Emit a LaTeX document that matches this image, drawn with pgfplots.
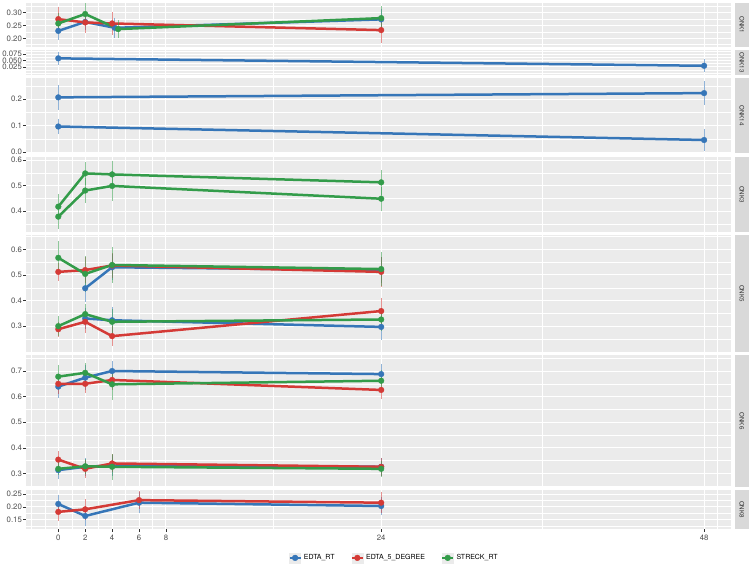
\documentclass[border=0pt]{standalone}
\usepackage{fontspec}
\setmainfont{TeX Gyre Heros}
\usepackage{pgfplots}
\pgfplotsset{compat=1.18}
\usetikzlibrary{calc}

\definecolor{cblue}{HTML}{3676B8}
\definecolor{cred}{HTML}{D43A36}
\definecolor{cgreen}{HTML}{339C4A}
\definecolor{panelbg}{HTML}{EBEBEB}
\definecolor{stripgray}{HTML}{D9D9D9}
\definecolor{tickgray}{HTML}{333333}
\definecolor{labgray}{HTML}{4D4D4D}

\pgfplotsset{
  panel/.style={
    scale only axis, width=705pt,
    xmin=-2.4, xmax=50,
    scaled ticks=false,
    axis background/.style={fill=panelbg},
    axis line style={draw=none},
    grid=both,
    major grid style={white, line width=0.9pt},
    minor grid style={white, line width=0.45pt},
    xtick={0,2,4,6,8,24,48},
    minor xtick={-2,-1,1,3,5,7,16,36,49,50},
    tick align=outside, tick pos=left,
    major tick length=2.7pt, minor tick length=0pt,
    tick style={tickgray, line width=0.5pt},
    tick label style={font=\fontsize{7.8}{9}\selectfont, text=labgray},
    yticklabel style={inner sep=0pt, xshift=-1.2pt},
    xticklabel style={inner sep=0pt, yshift=-3pt},
  },
  upper/.style={panel, xmajorticks=false, xticklabels={}},
  ser/.style={line width=2.5pt, line join=round, mark=*, mark size=2.9pt,
    mark options={line width=0.3pt},
    error bars/.cd, y dir=both, y explicit, error mark=none,
    error bar style={line width=0.75pt, opacity=0.55}},
  sb/.style={cblue, ser},
  sr/.style={cred, ser},
  sg/.style={cgreen, ser},
}

\newcommand{\strip}[2]{%
  \fill[stripgray] ([xshift=4pt]#1.north east) rectangle ([xshift=18pt]#1.south east);
  \node[rotate=-90, font=\fontsize{6.2}{7}\selectfont, text=black!80] at ($([xshift=11pt]#1.north east)!0.5!([xshift=11pt]#1.south east)$) {#2};}

\begin{document}
\begin{tikzpicture}
\useasboundingbox (0,0) rectangle (749pt,-568pt);

% ONK1
\begin{axis}[upper, name=p1, at={(26pt,-3pt)}, anchor=north west, height=44pt,
  ymin=0.166, ymax=0.338, ytick={0.20,0.25,0.30}, yticklabels={0.20,0.25,0.30},
  minor ytick={0.175,0.225,0.275,0.325}]
  \addplot[sb] coordinates {(0,0.229) +- (0,0.035) (2,0.264) +- (0,0.03) (4.2,0.241) +- (0,0.04) (24,0.274) +- (0,0.04)};
  \addplot[sr] coordinates {(0,0.275) +- (0,0.048) (2,0.262) +- (0,0.04) (4,0.258) +- (0,0.045) (24,0.232) +- (0,0.05)};
  \addplot[sg] coordinates {(0,0.258) +- (0,0.04) (2,0.295) +- (0,0.042) (4.45,0.236) +- (0,0.035) (24,0.279) +- (0,0.047)};
\end{axis}
\strip{p1}{ONK1}

% ONK13
\begin{axis}[upper, name=p2, at={(26pt,-50pt)}, anchor=north west, height=25pt,
  ymin=-0.007, ymax=0.0906, ytick={0.025,0.050,0.075}, yticklabels={0.025,0.050,0.075},
  minor ytick={0,0.0125,0.0375,0.0625,0.0875}]
  \addplot[sb] coordinates {(0,0.058) +- (0,0.026) (48,0.029) +- (0,0.025)};
\end{axis}
\strip{p2}{ONK13}

% ONK14
\begin{axis}[upper, name=p3, at={(26pt,-78pt)}, anchor=north west, height=75pt,
  ymin=-0.003, ymax=0.280, ytick={0,0.1,0.2}, yticklabels={0.0,0.1,0.2},
  minor ytick={0.05,0.15,0.25}]
  \addplot[sb] coordinates {(0,0.207) +- (0,0.048) (48,0.223) +- (0,0.044)};
  \addplot[sb] coordinates {(0,0.097) +- (0,0.03) (48,0.046) +- (0,0.04)};
\end{axis}
\strip{p3}{ONK14}

% ONK3
\begin{axis}[upper, name=p4, at={(26pt,-157pt)}, anchor=north west, height=75pt,
  ymin=0.319, ymax=0.612, ytick={0.4,0.5,0.6}, yticklabels={0.4,0.5,0.6},
  minor ytick={0.35,0.45,0.55}]
  \addplot[sg] coordinates {(0,0.418) +- (0,0.05) (2,0.548) +- (0,0.045) (4,0.544) +- (0,0.053) (24,0.513) +- (0,0.048)};
  \addplot[sg] coordinates {(0,0.379) +- (0,0.05) (2,0.481) +- (0,0.048) (4,0.499) +- (0,0.06) (24,0.449) +- (0,0.047)};
\end{axis}
\strip{p4}{ONK3}

% ONK5
\begin{axis}[upper, name=p5, at={(26pt,-235pt)}, anchor=north west, height=117pt,
  ymin=0.199, ymax=0.656, ytick={0.3,0.4,0.5,0.6}, yticklabels={0.3,0.4,0.5,0.6},
  minor ytick={0.2,0.25,0.35,0.45,0.55,0.65}]
  \addplot[sb] coordinates {(2,0.448) +- (0,0.055) (4,0.530) +- (0,0.05) (24,0.519) +- (0,0.05)};
  \addplot[sb] coordinates {(2,0.330) +- (0,0.04) (4,0.323) +- (0,0.05) (24,0.297) +- (0,0.05)};
  \addplot[sr] coordinates {(0,0.512) +- (0,0.035) (2,0.519) +- (0,0.05) (4,0.537) +- (0,0.05) (24,0.512) +- (0,0.06)};
  \addplot[sr] coordinates {(0,0.288) +- (0,0.03) (2,0.317) +- (0,0.045) (4,0.261) +- (0,0.04) (24,0.359) +- (0,0.05)};
  \addplot[sg] coordinates {(0,0.567) +- (0,0.065) (2,0.504) +- (0,0.07) (4,0.539) +- (0,0.07) (24,0.523) +- (0,0.065)};
  \addplot[sg] coordinates {(0,0.300) +- (0,0.04) (2,0.347) +- (0,0.04) (4,0.317) +- (0,0.05) (24,0.326) +- (0,0.045)};
\end{axis}
\strip{p5}{ONK5}

% ONK6
\begin{axis}[upper, name=p6, at={(26pt,-355pt)}, anchor=north west, height=132pt,
  ymin=0.247, ymax=0.7625, ytick={0.3,0.4,0.5,0.6,0.7}, yticklabels={0.3,0.4,0.5,0.6,0.7},
  minor ytick={0.25,0.35,0.45,0.55,0.65,0.75}]
  \addplot[sb] coordinates {(0,0.639) +- (0,0.045) (2,0.674) +- (0,0.05) (4,0.700) +- (0,0.04) (24,0.688) +- (0,0.04)};
  \addplot[sb] coordinates {(0,0.313) +- (0,0.035) (2,0.326) +- (0,0.035) (4,0.331) +- (0,0.04) (24,0.326) +- (0,0.035)};
  \addplot[sr] coordinates {(0,0.650) +- (0,0.04) (2,0.650) +- (0,0.035) (4,0.665) +- (0,0.04) (24,0.626) +- (0,0.035)};
  \addplot[sr] coordinates {(0,0.354) +- (0,0.035) (2,0.318) +- (0,0.035) (4,0.339) +- (0,0.035) (24,0.326) +- (0,0.035)};
  \addplot[sg] coordinates {(0,0.678) +- (0,0.045) (2,0.693) +- (0,0.04) (4,0.648) +- (0,0.06) (24,0.662) +- (0,0.04)};
  \addplot[sg] coordinates {(0,0.318) +- (0,0.025) (2,0.328) +- (0,0.03) (4,0.326) +- (0,0.05) (24,0.318) +- (0,0.03)};
\end{axis}
\strip{p6}{ONK6}

% ONK8
\begin{axis}[panel, name=p7, at={(26pt,-490pt)}, anchor=north west, height=39pt,
  ymin=0.113, ymax=0.2656, ytick={0.15,0.20,0.25}, yticklabels={0.15,0.20,0.25},
  minor ytick={0.125,0.175,0.225},
  xticklabels={0,2,4,6,8,24,48},
  legend style={at={(0.522,-0.74)}, anchor=center, draw=none, fill=none,
    legend columns=3, font=\fontsize{7}{8}\selectfont, inner sep=0pt,
    /tikz/every even column/.append style={column sep=14pt}},
  legend cell align=left,
  legend image code/.code={
    \fill[panelbg] (0pt,-5pt) rectangle (11pt,5pt);
    \draw[#1, line width=2.5pt] (0pt,0pt) -- (11pt,0pt);
    \fill[#1] (5.5pt,0pt) circle (2.9pt);
  }]
  \addlegendimage{cblue}\addlegendentry{EDTA\_RT}
  \addlegendimage{cred}\addlegendentry{EDTA\_5\_DEGREE}
  \addlegendimage{cgreen}\addlegendentry{STRECK\_RT}
  \addplot[sb] coordinates {(0,0.211) +- (0,0.035) (2,0.164) +- (0,0.04) (6,0.216) +- (0,0.04) (24,0.203) +- (0,0.035)};
  \addplot[sr] coordinates {(0,0.180) +- (0,0.035) (2,0.190) +- (0,0.04) (6,0.226) +- (0,0.035) (24,0.216) +- (0,0.04)};
\end{axis}
\strip{p7}{ONK8}
\end{tikzpicture}
\end{document}
